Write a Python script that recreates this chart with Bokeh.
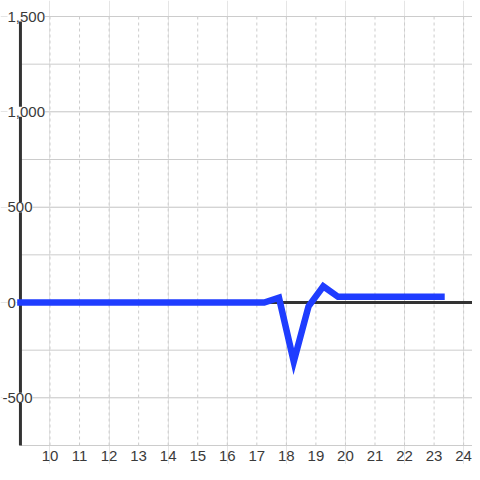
from bokeh.plotting import figure
from bokeh.models import ColumnDataSource, LabelSet
from bokeh.embed import file_html
from bokeh.resources import INLINE
from bokeh.core.properties import value

# ---- data ----
hours = [9.0, 9.25, 9.75, 10.25, 10.75, 11.25, 11.75, 12.25, 12.75, 13.25,
         13.75, 14.25, 14.75, 15.25, 15.75, 16.25, 16.75, 17.25, 17.75, 18.25,
         18.75, 19.25, 19.75, 20.25, 20.75, 21.25, 21.75, 22.25, 22.75, 23.25]
values = [0, 0, 0, 0, 0, 0, 0, 0, 0, 0,
          0, 0, 0, 0, 0, 0, 0, 0, 25, -310,
          -20, 85, 30, 30, 30, 30, 30, 30, 30, 30]
x_ticks = [10, 11, 12, 13, 14, 15, 16, 17, 18, 19, 20, 21, 22, 23, 24]
x_tick_labels = [str(t) for t in x_ticks]
y_label_values = [-500, 0, 500, 1000, 1500]
y_label_texts = ["-500", "0", "500", "1,000", "1,500"]
y_grid_values = [-750, -500, -250, 250, 500, 750, 1000, 1250, 1500]

# view: frame covers whole figure; axis area drawn inside it
X_VIEW = (8.325, 24.3)
AXIS_X = 9.0
Y_VIEW = (-849.65, 1583.92)
Y_BOTTOM = -750
Y_TOP = 1500

FONT = "Liberation Sans"
TEXT_COLOR = "#3a3a3a"
FONT_SIZE = "15px"

p = figure(width=472, height=464, x_range=X_VIEW, y_range=Y_VIEW,
           output_backend="svg", toolbar_location=None,
           x_axis_location=None, y_axis_location=None,
           min_border_left=0, min_border_right=0, min_border_top=0,
           min_border_bottom=0)
p.outline_line_color = None
p.background_fill_color = "white"
p.border_fill_color = "white"

# vertical dotted grid
nx = len(x_ticks)
p.segment(x0=x_ticks, x1=x_ticks, y0=[Y_BOTTOM] * nx, y1=[Y_TOP] * nx,
          line_color="#cccccc", line_dash="3 3", line_width=1)

# horizontal grid lines (and bottom axis line) starting at the y axis
n = len(y_grid_values)
p.segment(x0=[AXIS_X] * n, x1=[X_VIEW[1]] * n, y0=y_grid_values,
          y1=y_grid_values, line_color="#cccccc", line_width=1)

# y axis line
p.segment(x0=[AXIS_X], x1=[AXIS_X], y0=[Y_BOTTOM], y1=[Y_TOP],
          line_color="#333333", line_width=3)
# zero line
p.segment(x0=[AXIS_X], x1=[X_VIEW[1]], y0=[0], y1=[0],
          line_color="#333333", line_width=3)

# data line
p.line(hours, values, line_color="#1f3dff", line_width=6.5,
       line_cap="square", line_join="miter")

# y labels with white background (digits aligned, minus sign hanging left)
x_off = [2 if t.startswith("-") else 7 for t in y_label_texts]
src = ColumnDataSource(dict(x=[X_VIEW[0]] * len(y_label_values),
                            y=y_label_values, t=y_label_texts, xo=x_off))
p.add_layout(LabelSet(x="x", y="y", text="t", source=src, x_offset="xo",
                      text_align="left", text_baseline="middle",
                      text_font=value(FONT), text_font_size=FONT_SIZE,
                      text_color=TEXT_COLOR, background_fill_color="white"))

# x tick labels
xsrc = ColumnDataSource(dict(x=x_ticks, y=[Y_BOTTOM] * nx, t=x_tick_labels))
p.add_layout(LabelSet(x="x", y="y", text="t", source=xsrc, y_offset=-10,
                      text_align="center", text_baseline="middle",
                      text_font=value(FONT), text_font_size=FONT_SIZE,
                      text_color=TEXT_COLOR))

open("out.html", "w").write(file_html(p, INLINE))
